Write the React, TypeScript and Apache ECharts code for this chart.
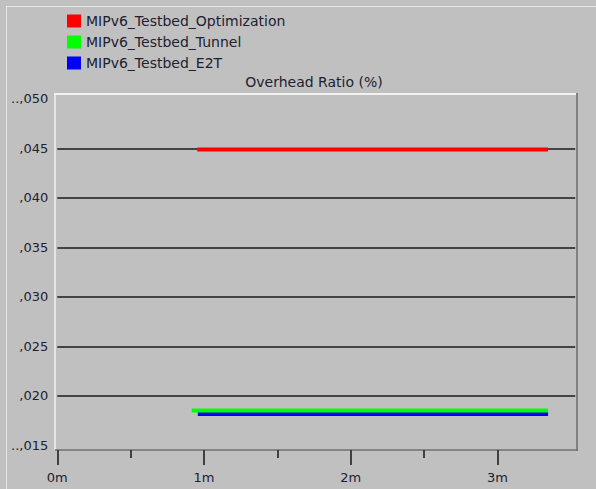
import React, { useEffect, useRef } from "react";
import * as echarts from "echarts";

// ---- data ----
const seriesNames = ["MIPv6_Testbed_Optimization", "MIPv6_Testbed_Tunnel", "MIPv6_Testbed_E2T"];
const seriesColors = ["#ff0000", "#00ff00", "#0000ff"];
const startMinutes = [0.954, 0.916, 0.958];
const endMinutes = [3.345, 3.345, 3.345];
const overheadRatio = [0.04488, 0.01854, 0.01818];
const yTickLabels: Record<string, string> = {
  "0.015": "..,015",
  "0.020": ",020",
  "0.025": ",025",
  "0.030": ",030",
  "0.035": ",035",
  "0.040": ",040",
  "0.045": ",045",
  "0.050": "..,050",
};
const xMajorTicks = [0, 1, 2, 3];
const xMinorTicks = [0.5, 1.5, 2.5];
const xTickLabels: Record<string, string> = { "0": "0m", "1": "1m", "2": "2m", "3": "3m" };
const chartTitle = "Overhead Ratio (%)";

const FONT = "DejaVu Sans";
const TEXT = "#202030";

export default function App() {
  const ref = useRef<HTMLDivElement>(null);
  useEffect(() => {
    if (!ref.current) return;
    const chart = echarts.init(ref.current, undefined, { renderer: "svg" });
    const order = [2, 1, 0];
    const series = order.map((i) => ({
      name: seriesNames[i],
      type: "line",
      symbol: "none",
      xAxisIndex: 0,
      data: [
        [startMinutes[i], overheadRatio[i]],
        [endMinutes[i], overheadRatio[i]],
      ],
      lineStyle: { color: seriesColors[i], width: 4, cap: "butt" },
      itemStyle: { color: seriesColors[i] },
      z: 3,
    }));
    const baseX = {
      type: "value",
      min: 0,
      max: 3.53,
      interval: 1,
      offset: 4.5,
      position: "bottom",
      axisLine: { show: false },
      splitLine: { show: false },
    };
    chart.setOption({
      animation: false,
      backgroundColor: "#c0c0c0",
      textStyle: { fontFamily: FONT },
      title: {
        text: chartTitle,
        left: 309,
        textAlign: "center",
        top: 70,
        textStyle: { fontFamily: FONT, fontSize: 14, fontWeight: "normal", color: TEXT },
      },
      legend: {
        orient: "vertical",
        left: 62,
        top: 9,
        itemWidth: 14,
        itemHeight: 13,
        itemGap: 7,
        icon: "rect",
        data: seriesNames,
        selectedMode: false,
        textStyle: { fontFamily: FONT, fontSize: 14, color: TEXT, padding: [0, 0, 0, 0], lineHeight: 13 },
        itemStyle: { borderWidth: 0 },
      },
      grid: { left: 57.3, right: 20.8, top: 98.8, bottom: 43.5, containLabel: false },
      xAxis: [
        {
          ...baseX,
          axisTick: { show: true, length: 15, customValues: xMajorTicks, lineStyle: { color: "#404040", width: 2 } },
          axisLabel: {
            margin: 21,
            fontFamily: FONT,
            fontSize: 13,
            color: TEXT,
            customValues: xMajorTicks,
            formatter: (v: number) => xTickLabels[String(Math.round(v))] ?? "",
          },
        },
        {
          ...baseX,
          axisTick: { show: true, length: 8, customValues: xMinorTicks, lineStyle: { color: "#404040", width: 2 } },
          axisLabel: { show: false },
        },
      ],
      yAxis: {
        type: "value",
        min: 0.015,
        max: 0.05,
        interval: 0.005,
        axisLine: { show: false },
        axisTick: { show: false },
        splitLine: {
          show: true,
          lineStyle: {
            color: ["rgba(0,0,0,0)", "#1a1a1a", "#1a1a1a", "#1a1a1a", "#1a1a1a", "#1a1a1a", "#1a1a1a", "rgba(0,0,0,0)"],
            width: 1.5,
          },
        },
        axisLabel: {
          margin: 9,
          fontFamily: FONT,
          fontSize: 13,
          color: TEXT,
          formatter: (v: number) => yTickLabels[v.toFixed(3)] ?? "",
        },
      },
      graphic: [
        { type: "line", shape: { x1: 6, y1: 6.5, x2: 596, y2: 6.5 }, style: { stroke: "#e6e6e6", lineWidth: 1 }, silent: true },
        { type: "line", shape: { x1: 6.5, y1: 6, x2: 6.5, y2: 489 }, style: { stroke: "#e6e6e6", lineWidth: 1 }, silent: true },
        { type: "line", shape: { x1: 54, y1: 94, x2: 577, y2: 94 }, style: { stroke: "#f2f2f2", lineWidth: 2 }, silent: true },
        { type: "line", shape: { x1: 55, y1: 93, x2: 55, y2: 450 }, style: { stroke: "#f2f2f2", lineWidth: 1.5 }, silent: true },
        { type: "line", shape: { x1: 577, y1: 93, x2: 577, y2: 451 }, style: { stroke: "#808080", lineWidth: 2 }, silent: true },
        { type: "line", shape: { x1: 55, y1: 450, x2: 578, y2: 450 }, style: { stroke: "#707070", lineWidth: 1.5 }, silent: true },
      ],
      series,
    });
    return () => chart.dispose();
  }, []);
  return (
    <div
      ref={ref}
      style={{ position: "absolute", left: 0, top: 0, width: 596, height: 489, background: "#c0c0c0" }}
    />
  );
}
